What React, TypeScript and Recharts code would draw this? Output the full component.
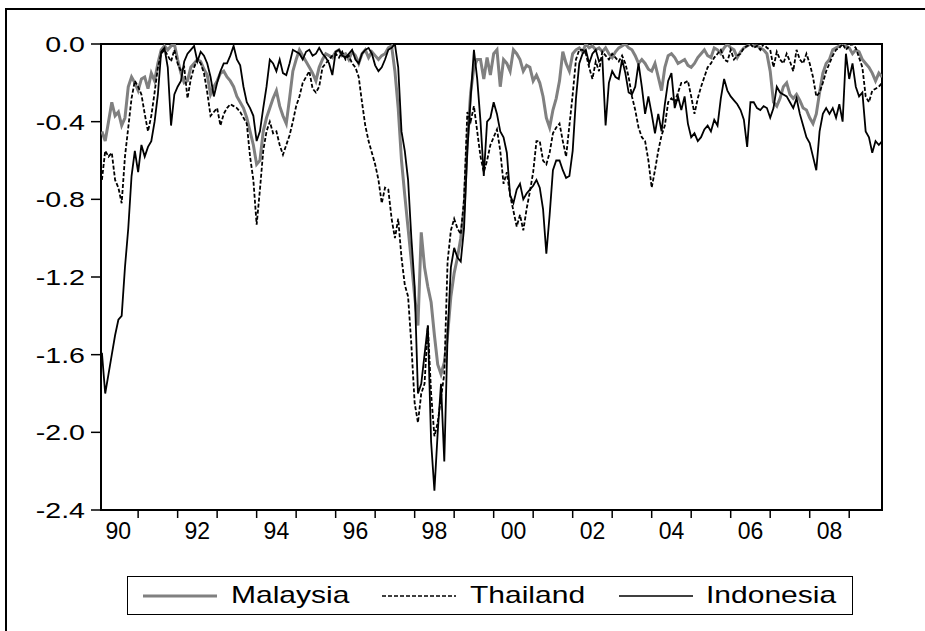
import React from 'react';
import { LineChart, Line, XAxis, YAxis, ReferenceArea } from 'recharts';

// monthly observations, Feb 1990 .. Nov 2009
const startYear = 1990;
const firstMonth = 2;

const malaysia = [
  // 1990 (Feb-Dec)
  -0.45, -0.5, -0.4, -0.3, -0.37, -0.35, -0.42, -0.38, -0.22, -0.17, -0.2,
  // 1991
  -0.24, -0.18, -0.17, -0.23, -0.15, -0.19, -0.1, -0.03, -0.01, -0.03, -0.01, 0,
  // 1992
  -0.08, -0.15, -0.2, -0.19, -0.12, -0.1, -0.08, -0.09, -0.13, -0.16, -0.26, -0.22,
  // 1993
  -0.19, -0.15, -0.14, -0.17, -0.19, -0.22, -0.27, -0.3, -0.33, -0.38, -0.45, -0.52,
  // 1994
  -0.62, -0.6, -0.45, -0.38, -0.33, -0.28, -0.24, -0.32, -0.37, -0.41, -0.28, -0.14,
  // 1995
  -0.08, -0.03, -0.06, -0.09, -0.12, -0.15, -0.19, -0.12, -0.08, -0.05, -0.06, -0.07,
  // 1996
  -0.04, -0.03, -0.06, -0.05, -0.08, -0.04, -0.06, -0.1, -0.05, -0.03, -0.07, -0.04,
  // 1997
  -0.06, -0.08, -0.06, -0.05, -0.02, -0.01, -0.14, -0.33, -0.6, -0.78, -0.95, -1.12,
  // 1998
  -1.3, -1.45, -0.97, -1.15, -1.25, -1.33, -1.5, -1.65, -1.7, -1.64, -1.5, -1.3,
  // 1999
  -1.18, -1.1, -1.0, -0.85, -0.5, -0.25, -0.12, -0.08, -0.08, -0.18, -0.07, -0.16,
  // 2000
  -0.05, -0.03, -0.22, -0.08, -0.1, -0.14, -0.03, -0.05, -0.08, -0.14, -0.11, -0.12,
  // 2001
  -0.19, -0.16, -0.2, -0.27, -0.38, -0.43, -0.34, -0.28, -0.19, -0.04, -0.1, -0.14,
  // 2002
  -0.05, -0.03, -0.02, -0.04, 0, -0.02, -0.01, -0.03, -0.02, -0.04, -0.02, -0.05,
  // 2003
  -0.07, -0.04, -0.02, -0.01, 0, -0.02, -0.03, -0.06, -0.1, -0.08, -0.1, -0.13,
  // 2004
  -0.14, -0.1, -0.17, -0.24, -0.12, -0.06, -0.05, -0.07, -0.1, -0.09, -0.08, -0.11,
  // 2005
  -0.12, -0.1, -0.07, -0.05, -0.03, -0.06, -0.07, -0.02, -0.03, -0.05, -0.02, 0,
  // 2006
  -0.02, -0.03, -0.07, -0.04, -0.02, -0.01, 0, -0.01, -0.01, -0.02, -0.03, -0.05,
  // 2007
  -0.14, -0.3, -0.32, -0.28, -0.22, -0.2, -0.26, -0.28, -0.26, -0.29, -0.33, -0.34,
  // 2008
  -0.38, -0.41, -0.36, -0.25, -0.15, -0.1, -0.08, -0.03, -0.02, -0.01, 0, -0.01,
  // 2009 (Jan-Nov)
  -0.02, -0.05, -0.03, -0.04, -0.08, -0.1, -0.12, -0.15, -0.19, -0.15, -0.17,
];

const thailand = [
  -0.7, -0.55, -0.58, -0.56, -0.7, -0.74, -0.82, -0.58, -0.43, -0.28, -0.19,
  -0.22, -0.26, -0.36, -0.45, -0.37, -0.25, -0.12, -0.05, -0.03, -0.06, -0.09, -0.03,
  -0.1, -0.14, -0.12, -0.28, -0.18, -0.12, -0.08, -0.1, -0.15, -0.25, -0.37, -0.35,
  -0.33, -0.42, -0.36, -0.33, -0.31, -0.32, -0.33, -0.35, -0.38, -0.41, -0.58, -0.7,
  -0.93, -0.75, -0.55, -0.45, -0.4, -0.46, -0.45, -0.52, -0.57, -0.52, -0.47, -0.4,
  -0.32, -0.27, -0.2, -0.17, -0.14, -0.23, -0.25, -0.22, -0.12, -0.1, -0.08, -0.06,
  -0.05, -0.07, -0.04, -0.08, -0.06, -0.1, -0.12, -0.17, -0.3, -0.42, -0.5, -0.56,
  -0.62, -0.7, -0.82, -0.74, -0.75, -0.9, -1.0, -0.9, -1.1, -1.24, -1.3, -1.55,
  -1.85, -1.95, -1.8, -1.75, -1.45, -1.8, -2.02, -1.95, -1.82, -1.7, -1.12, -0.96,
  -0.9, -0.95, -0.98, -0.8, -0.35, -0.4, -0.32, -0.45, -0.58, -0.66, -0.6, -0.52,
  -0.48, -0.44, -0.55, -0.72, -0.66, -0.78, -0.86, -0.94, -0.88, -0.96, -0.85, -0.76,
  -0.66, -0.5, -0.5, -0.6, -0.62, -0.56, -0.46, -0.43, -0.41, -0.5, -0.58, -0.42,
  -0.26, -0.08, -0.03, -0.03, -0.05, -0.12, -0.18, -0.09, -0.14, -0.04, -0.06, -0.08,
  -0.05, -0.07, -0.09, -0.06, -0.1, -0.17, -0.27, -0.34, -0.43, -0.48, -0.5, -0.6,
  -0.74, -0.65, -0.55, -0.47, -0.42, -0.3, -0.28, -0.3, -0.25, -0.2, -0.2, -0.19,
  -0.27, -0.36, -0.28, -0.22, -0.17, -0.12, -0.1, -0.07, -0.05, -0.03, -0.08, -0.09,
  -0.03, -0.08, -0.06, -0.05, -0.02, -0.01, 0, -0.02, -0.01, -0.03, 0, -0.02,
  -0.03, -0.12, -0.04, -0.08, -0.1, -0.05, -0.09, -0.14, -0.03, -0.08, -0.1, -0.05,
  -0.1, -0.17, -0.27, -0.25, -0.2, -0.14, -0.1, -0.06, -0.03, -0.02, 0, -0.03,
  -0.01, 0, -0.02, -0.07, -0.12, -0.27, -0.3, -0.24, -0.23, -0.22, -0.2,
];

const indonesia = [
  -1.59, -1.8, -1.7, -1.6, -1.5, -1.42, -1.4, -1.15, -0.95, -0.68, -0.55,
  -0.66, -0.52, -0.58, -0.53, -0.5, -0.4, -0.26, -0.04, -0.02, -0.12, -0.42, -0.26,
  -0.22, -0.19, -0.09, -0.05, -0.03, -0.01, -0.09, -0.04, -0.06, -0.1, -0.17, -0.27,
  -0.2, -0.14, -0.1, -0.1, -0.06, -0.01, -0.08, -0.11, -0.22, -0.3, -0.33, -0.37,
  -0.5, -0.45, -0.33, -0.22, -0.08, -0.1, -0.14, -0.08, -0.15, -0.16, -0.1, -0.03,
  -0.04, -0.05, -0.08, -0.04, -0.03, -0.06, -0.05, -0.02, -0.05, -0.07, -0.1, -0.16,
  -0.04, -0.03, -0.06, -0.07, -0.05, -0.03, -0.08, -0.1, -0.05, -0.03, -0.02, -0.05,
  -0.11, -0.14, -0.12, -0.08, -0.03, -0.02, 0, -0.12, -0.45, -0.55, -0.7, -1.0,
  -1.25, -1.8, -1.75, -1.6, -1.45, -2.05, -2.3, -2.0, -1.75, -2.15, -1.5, -1.15,
  -1.05, -1.1, -1.12, -0.95, -0.55, -0.28, -0.03, -0.18, -0.4, -0.68, -0.4, -0.38,
  -0.3, -0.36, -0.45, -0.48, -0.56, -0.78, -0.82, -0.75, -0.72, -0.8, -0.77, -0.75,
  -0.73, -0.7, -0.74, -0.85, -1.08, -0.88, -0.65, -0.6, -0.6, -0.65, -0.69, -0.68,
  -0.55, -0.28, -0.1, -0.05, -0.03, -0.1, -0.05, -0.03, -0.09, -0.07, -0.42, -0.2,
  -0.14, -0.17, -0.18, -0.08, -0.15, -0.25, -0.26, -0.22, -0.1, -0.22, -0.36, -0.27,
  -0.36, -0.46, -0.36, -0.45, -0.31, -0.19, -0.15, -0.33, -0.27, -0.34, -0.27, -0.41,
  -0.48, -0.46, -0.5, -0.48, -0.44, -0.42, -0.45, -0.39, -0.42, -0.28, -0.18, -0.24,
  -0.27, -0.29, -0.31, -0.34, -0.39, -0.53, -0.3, -0.3, -0.33, -0.34, -0.32, -0.33,
  -0.38, -0.33, -0.22, -0.25, -0.26, -0.27, -0.3, -0.33, -0.28, -0.36, -0.42, -0.48,
  -0.51, -0.58, -0.65, -0.45, -0.36, -0.33, -0.36, -0.33, -0.38, -0.31, -0.4, -0.05,
  -0.18, -0.1, -0.22, -0.27, -0.25, -0.45, -0.48, -0.56, -0.5, -0.52, -0.5,
];

const yTicks = [0, -0.4, -0.8, -1.2, -1.6, -2.0, -2.4];
const yearTicks = [1991, 1992, 1993, 1994, 1995, 1996, 1997, 1998, 1999, 2000,
  2001, 2002, 2003, 2004, 2005, 2006, 2007, 2008, 2009];
const labelYears = [1990, 1992, 1994, 1996, 1998, 2000, 2002, 2004, 2006, 2008];
// year ticks carry only a tick mark, mid-year ticks carry the two-digit label
const xTicks = [...yearTicks, ...labelYears.map((y) => y + 0.5)].sort((a, b) => a - b);

const rows = malaysia.map((m, i) => ({
  t: startYear + (firstMonth - 1 + i) / 12,
  malaysia: m,
  thailand: thailand[i],
  indonesia: indonesia[i],
}));

const xMin = 1990.06;
const xMax = 2009.83;
const font = '"Liberation Sans", Arial, sans-serif';

const XTick = (props: any) => {
  const { x, y, payload } = props;
  const v = payload.value as number;
  if (Number.isInteger(v)) {
    return <line x1={x} x2={x} y1={y} y2={y + 8} stroke="#000" strokeWidth={1.5} />;
  }
  const label = String(Math.floor(v) % 100).padStart(2, '0');
  return (
    <text x={x} y={y + 29} textAnchor="middle" fill="#000" fontSize={23} fontFamily={font}>
      {label}
    </text>
  );
};

const YTick = (props: any) => {
  const { x, y, payload } = props;
  return (
    <g transform={`translate(${x},${y + 8}) scale(1.3,1)`}>
      <text x={0} y={0} textAnchor="end" fill="#000" fontSize={22} fontFamily={font}>
        {(payload.value as number).toFixed(1)}
      </text>
    </g>
  );
};

const legendItems = [
  { label: 'Malaysia', color: '#808080', width: 3, dash: undefined, lineLeft: 143, textLeft: 231 },
  { label: 'Thailand', color: '#000', width: 1.6, dash: '4 2', lineLeft: 382, textLeft: 470 },
  { label: 'Indonesia', color: '#000', width: 1.6, dash: undefined, lineLeft: 619, textLeft: 706 },
];

export default function App() {
  return (
    <div style={{ position: 'absolute', left: 0, top: 0, width: 925, height: 631, background: '#fff', fontFamily: font, overflow: 'hidden' }}>
      <div style={{ position: 'absolute', left: 5, top: 8, width: 930, height: 640, borderLeft: '2px solid #000', borderTop: '2px solid #000' }} />
      <LineChart width={925} height={631} data={rows} margin={{ top: 44, right: 43, bottom: 83, left: 41 }}>
        <XAxis
          type="number"
          dataKey="t"
          domain={[xMin, xMax]}
          allowDataOverflow
          ticks={xTicks}
          interval={0}
          tick={<XTick />}
          tickSize={0}
          tickMargin={0}
          height={38}
          axisLine={false}
          tickLine={false}
        />
        <YAxis
          type="number"
          domain={[-2.4, 0]}
          allowDataOverflow
          ticks={yTicks}
          interval={0}
          tick={<YTick />}
          width={60}
          tickSize={10}
          tickMargin={6}
          axisLine={false}
          tickLine={{ stroke: '#000', strokeWidth: 1.5 }}
        />
        <Line dataKey="malaysia" stroke="#808080" strokeWidth={3} dot={false} isAnimationActive={false} />
        <Line dataKey="thailand" stroke="#000" strokeWidth={1.8} strokeDasharray="4 2" dot={false} isAnimationActive={false} />
        <Line dataKey="indonesia" stroke="#000" strokeWidth={1.8} dot={false} isAnimationActive={false} />
        <ReferenceArea x1={xMin} x2={xMax} y1={-2.4} y2={0} fill="none" stroke="#000" strokeWidth={2} ifOverflow="visible" />
      </LineChart>
      <div
        style={{
          position: 'absolute', left: 127, top: 576, width: 726, height: 39,
          border: '1.5px solid #000', boxSizing: 'border-box', color: '#000',
        }}
      >
        {legendItems.map((it) => (
          <React.Fragment key={it.label}>
            <svg width={74} height={6} style={{ position: 'absolute', left: it.lineLeft - 128, top: 16 }}>
              <line x1={0} y1={3} x2={74} y2={3} stroke={it.color} strokeWidth={it.width} strokeDasharray={it.dash} />
            </svg>
            <span
              style={{
                position: 'absolute', left: it.textLeft - 128, top: 4, fontSize: 24, lineHeight: '28px',
                transform: 'scaleX(1.25)', transformOrigin: 'left center', whiteSpace: 'nowrap',
              }}
            >
              {it.label}
            </span>
          </React.Fragment>
        ))}
      </div>
    </div>
  );
}
